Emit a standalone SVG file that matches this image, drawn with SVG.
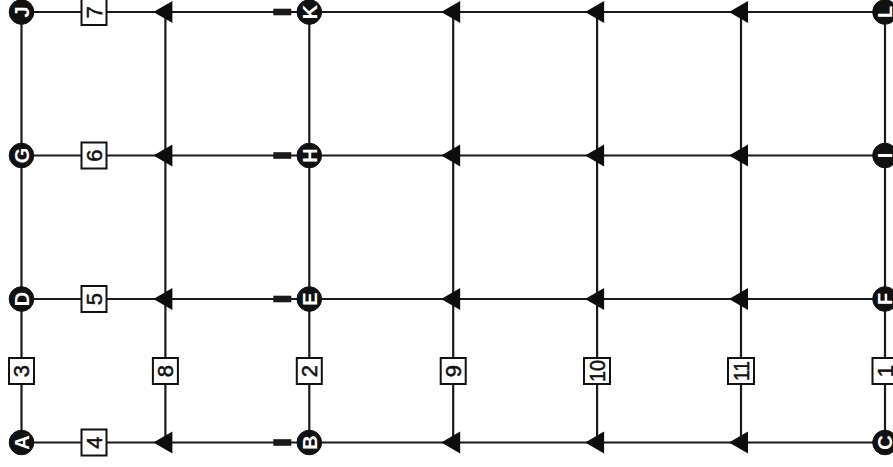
<svg xmlns="http://www.w3.org/2000/svg" xmlns:xlink="http://www.w3.org/1999/xlink" width="893" height="467" viewBox="0 0 893 467">
<style>
.ln{stroke:#1a1a1a;stroke-width:2.2;fill:none}
.nd{fill:#111;stroke:#111;stroke-width:1}
.nt{fill:#fff;font-family:"Liberation Sans",Arial,sans-serif;font-weight:bold;font-size:20px;text-anchor:middle}
.lb{fill:#fff;stroke:#111;stroke-width:2}
.lt{fill:#111;stroke:#111;stroke-width:0.5;font-family:"Liberation Sans",Arial,sans-serif;font-size:22px;text-anchor:middle}
.ar{fill:#0d0d0d}
.bar{fill:#1a1a1a}
</style>
<defs>
<polygon id="arw" points="-12,0 7,-11 7,11"/>
<rect id="brk" x="-36" y="-3.3" width="18" height="6.6"/>
</defs>
<rect width="893" height="467" fill="#fff"/>
<g id="connectors">
<line class="ln" x1="21.5" y1="12" x2="885" y2="12"/>
<line class="ln" x1="21.5" y1="155.5" x2="885" y2="155.5"/>
<line class="ln" x1="21.5" y1="299" x2="885" y2="299"/>
<line class="ln" x1="21.5" y1="442.5" x2="885" y2="442.5"/>
<line class="ln" x1="21.5" y1="12" x2="21.5" y2="442.5"/>
<line class="ln" x1="165.4" y1="12" x2="165.4" y2="442.5"/>
<line class="ln" x1="309.3" y1="12" x2="309.3" y2="442.5"/>
<line class="ln" x1="453.2" y1="12" x2="453.2" y2="442.5"/>
<line class="ln" x1="597.1" y1="12" x2="597.1" y2="442.5"/>
<line class="ln" x1="741" y1="12" x2="741" y2="442.5"/>
<line class="ln" x1="885" y1="12" x2="885" y2="442.5"/>
<g class="ar">
<use xlink:href="#arw" x="165.4" y="12"/><use xlink:href="#arw" x="453.2" y="12"/><use xlink:href="#arw" x="597.1" y="12"/><use xlink:href="#arw" x="741" y="12"/>
<use xlink:href="#arw" x="165.4" y="155.5"/><use xlink:href="#arw" x="453.2" y="155.5"/><use xlink:href="#arw" x="597.1" y="155.5"/><use xlink:href="#arw" x="741" y="155.5"/>
<use xlink:href="#arw" x="165.4" y="299"/><use xlink:href="#arw" x="453.2" y="299"/><use xlink:href="#arw" x="597.1" y="299"/><use xlink:href="#arw" x="741" y="299"/>
<use xlink:href="#arw" x="165.4" y="442.5"/><use xlink:href="#arw" x="453.2" y="442.5"/><use xlink:href="#arw" x="597.1" y="442.5"/><use xlink:href="#arw" x="741" y="442.5"/>
</g>
<g class="bar">
<use xlink:href="#brk" x="309.3" y="12"/><use xlink:href="#brk" x="309.3" y="155.5"/><use xlink:href="#brk" x="309.3" y="299"/><use xlink:href="#brk" x="309.3" y="442.5"/>
</g>
</g>
<g id="labels">
<g id="lbl1"><rect class="lb" x="872.5" y="358" width="25" height="26"/><text class="lt" transform="translate(885,371) rotate(-90)" dy="0.36em">1</text></g>
<g id="lbl2"><rect class="lb" x="296.8" y="358" width="25" height="26"/><text class="lt" transform="translate(309.3,371) rotate(-90)" dy="0.36em">2</text></g>
<g id="lbl3"><rect class="lb" x="9" y="358" width="25" height="26"/><text class="lt" transform="translate(21.5,371) rotate(-90)" dy="0.36em">3</text></g>
<g id="lbl4"><rect class="lb" x="81.5" y="429.5" width="25" height="26"/><text class="lt" transform="translate(94,442.5) rotate(-90)" dy="0.36em">4</text></g>
<g id="lbl5"><rect class="lb" x="81.5" y="286" width="25" height="26"/><text class="lt" transform="translate(94,299) rotate(-90)" dy="0.36em">5</text></g>
<g id="lbl6"><rect class="lb" x="81.5" y="142.5" width="25" height="26"/><text class="lt" transform="translate(94,155.5) rotate(-90)" dy="0.36em">6</text></g>
<g id="lbl7"><rect class="lb" x="81.5" y="-1" width="25" height="26"/><text class="lt" transform="translate(94,12) rotate(-90)" dy="0.36em">7</text></g>
<g id="lbl8"><rect class="lb" x="152.9" y="358" width="25" height="26"/><text class="lt" transform="translate(165.4,371) rotate(-90)" dy="0.36em">8</text></g>
<g id="lbl9"><rect class="lb" x="440.7" y="358" width="25" height="26"/><text class="lt" transform="translate(453.2,371) rotate(-90)" dy="0.36em">9</text></g>
<g id="lbl10"><rect class="lb" x="584" y="358" width="26" height="26"/><text class="lt" transform="translate(597.1,371) rotate(-90)" dy="0.36em" textLength="22" lengthAdjust="spacingAndGlyphs">10</text></g>
<g id="lbl11"><rect class="lb" x="728" y="358" width="26" height="26"/><text class="lt" transform="translate(741,371) rotate(-90)" dy="0.36em" textLength="20" lengthAdjust="spacingAndGlyphs">11</text></g>
</g>
<g id="nA"><circle class="nd" cx="21.5" cy="442.5" r="12.3"/><text class="nt" transform="translate(21.5,442.5) rotate(-90)" dy="0.36em">A</text></g>
<g id="nB"><circle class="nd" cx="309.3" cy="442.5" r="12.3"/><text class="nt" transform="translate(309.3,442.5) rotate(-90)" dy="0.36em">B</text></g>
<g id="nC"><circle class="nd" cx="885" cy="442.5" r="12.3"/><text class="nt" transform="translate(885,442.5) rotate(-90)" dy="0.36em">C</text></g>
<g id="nD"><circle class="nd" cx="21.5" cy="299" r="12.3"/><text class="nt" transform="translate(21.5,299) rotate(-90)" dy="0.36em">D</text></g>
<g id="nE"><circle class="nd" cx="309.3" cy="299" r="12.3"/><text class="nt" transform="translate(309.3,299) rotate(-90)" dy="0.36em">E</text></g>
<g id="nF"><circle class="nd" cx="885" cy="299" r="12.3"/><text class="nt" transform="translate(885,299) rotate(-90)" dy="0.36em">F</text></g>
<g id="nG"><circle class="nd" cx="21.5" cy="155.5" r="12.3"/><text class="nt" transform="translate(21.5,155.5) rotate(-90)" dy="0.36em">G</text></g>
<g id="nH"><circle class="nd" cx="309.3" cy="155.5" r="12.3"/><text class="nt" transform="translate(309.3,155.5) rotate(-90)" dy="0.36em">H</text></g>
<g id="nI"><circle class="nd" cx="885" cy="155.5" r="12.3"/><text class="nt" transform="translate(885,155.5) rotate(-90)" dy="0.36em">I</text></g>
<g id="nJ"><circle class="nd" cx="21.5" cy="12" r="12.3"/><text class="nt" transform="translate(21.5,12) rotate(-90)" dy="0.36em">J</text></g>
<g id="nK"><circle class="nd" cx="309.3" cy="12" r="12.3"/><text class="nt" transform="translate(309.3,12) rotate(-90)" dy="0.36em">K</text></g>
<g id="nL"><circle class="nd" cx="885" cy="12" r="12.3"/><text class="nt" transform="translate(885,12) rotate(-90)" dy="0.36em">L</text></g>
</svg>
